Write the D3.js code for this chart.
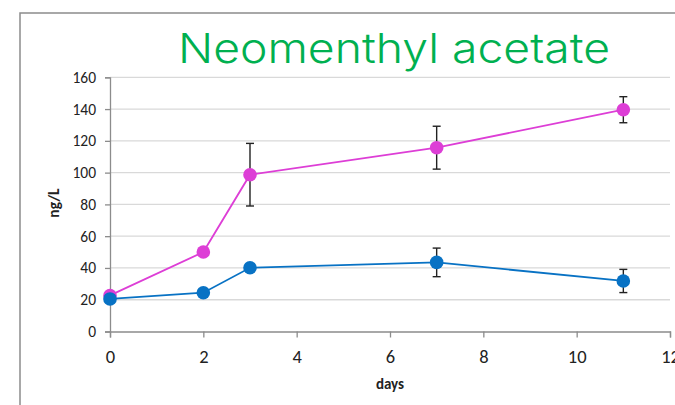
<!DOCTYPE html>
<html>
<head>
<meta charset="utf-8">
<script src="https://cdn.jsdelivr.net/npm/d3@7"></script>
<style>
  html, body { margin: 0; padding: 0; background: #fff; }
  svg { display: block; }
</style>
</head>
<body>
<svg id="chart" width="675" height="405"></svg>
<script>
// Sampling days and measured concentrations (ng/L) with error half-widths
const days = [0, 2, 3, 7, 11];
const magentaValues = [22.7, 50, 98.7, 115.7, 139.6];
const magentaErrors = [0, 0, 19.7, 13.5, 8.2];
const blueValues = [20.5, 24.4, 40.1, 43.5, 31.8];
const blueErrors = [0, 0, 0, 9, 7.3];
const xTicks = [0, 2, 4, 6, 8, 10, 12];
const yTicks = [0, 20, 40, 60, 80, 100, 120, 140, 160];

const svg = d3.select("#chart");
const labelFont = "Carlito, 'Liberation Sans', Arial, sans-serif";

// Outer chart frame (runs off the right and bottom edges)
svg.append("rect")
  .attr("x", 20).attr("y", 13)
  .attr("width", 700).attr("height", 420)
  .attr("fill", "none")
  .attr("stroke", "#8c8c8c")
  .attr("stroke-width", 1.5);

const x = d3.scaleLinear().domain([0, 12]).range([110, 670]);
const y = d3.scaleLinear().domain([0, 160]).range([331.5, 77.3]);

// Horizontal gridlines
svg.append("g")
  .selectAll("line")
  .data(yTicks.filter(t => t > 0))
  .join("line")
  .attr("x1", x(0)).attr("x2", x(12))
  .attr("y1", d => y(d)).attr("y2", d => y(d))
  .attr("stroke", "#d9d9d9")
  .attr("stroke-width", 1.3);

// Y axis
const yAxis = svg.append("g")
  .attr("transform", `translate(${x(0)},0)`)
  .call(d3.axisLeft(y).tickValues(yTicks).tickSize(5).tickPadding(9));
yAxis.select(".domain").attr("stroke", "#8c8c8c").attr("stroke-width", 1.3);
yAxis.selectAll(".tick line").attr("stroke", "#8c8c8c").attr("stroke-width", 1.3);
yAxis.selectAll(".tick text")
  .attr("font-family", labelFont)
  .attr("font-size", 15.5)
  .attr("fill", "#222");

// X axis
const xAxis = svg.append("g")
  .attr("transform", `translate(0,${y(0)})`)
  .call(d3.axisBottom(x).tickValues(xTicks).tickSize(6).tickPadding(12));
xAxis.select(".domain").attr("stroke", "#8c8c8c").attr("stroke-width", 1.3);
xAxis.selectAll(".tick line").attr("stroke", "#8c8c8c").attr("stroke-width", 1.3);
xAxis.selectAll(".tick text")
  .attr("font-family", labelFont)
  .attr("font-size", 18.5)
  .attr("fill", "#222");

// Axis titles
svg.append("text")
  .attr("x", 390).attr("y", 389)
  .attr("text-anchor", "middle")
  .attr("font-family", labelFont)
  .attr("font-weight", "bold")
  .attr("font-size", 15)
  .attr("fill", "#222")
  .text("days");

svg.append("text")
  .attr("transform", "translate(59,203) rotate(-90)")
  .attr("text-anchor", "middle")
  .attr("font-family", labelFont)
  .attr("font-weight", "bold")
  .attr("font-size", 15.5)
  .attr("fill", "#222")
  .text("ng/L");

// Chart title
svg.append("text")
  .attr("x", 394).attr("y", 63)
  .attr("text-anchor", "middle")
  .attr("font-family", "Inter, 'DejaVu Sans', sans-serif")
  .attr("font-weight", 300)
  .attr("font-size", 41)
  .attr("textLength", 432)
  .attr("lengthAdjust", "spacingAndGlyphs")
  .attr("fill", "#00b050")
  .text("Neomenthyl acetate");

const series = [
  { values: magentaValues, errors: magentaErrors, color: "#dd3ed6" },
  { values: blueValues, errors: blueErrors, color: "#0872c4" }
];

const line = d3.line().x(d => x(d.day)).y(d => y(d.value));

series.forEach(s => {
  const pts = days.map((d, i) => ({ day: d, value: s.values[i], err: s.errors[i] }));

  svg.append("path")
    .datum(pts)
    .attr("d", line)
    .attr("fill", "none")
    .attr("stroke", s.color)
    .attr("stroke-width", 1.8);

  // Error bars
  const eb = svg.append("g").selectAll("g")
    .data(pts.filter(p => p.err > 0))
    .join("g")
    .attr("stroke", "#222")
    .attr("stroke-width", 1.4);
  eb.append("line")
    .attr("x1", p => x(p.day)).attr("x2", p => x(p.day))
    .attr("y1", p => y(p.value + p.err)).attr("y2", p => y(p.value - p.err));
  eb.append("line")
    .attr("x1", p => x(p.day) - 4).attr("x2", p => x(p.day) + 4)
    .attr("y1", p => y(p.value + p.err)).attr("y2", p => y(p.value + p.err));
  eb.append("line")
    .attr("x1", p => x(p.day) - 4).attr("x2", p => x(p.day) + 4)
    .attr("y1", p => y(p.value - p.err)).attr("y2", p => y(p.value - p.err));

  svg.append("g").selectAll("circle")
    .data(pts)
    .join("circle")
    .attr("cx", p => x(p.day))
    .attr("cy", p => y(p.value))
    .attr("r", 6.8)
    .attr("fill", s.color);
});
</script>
</body>
</html>
